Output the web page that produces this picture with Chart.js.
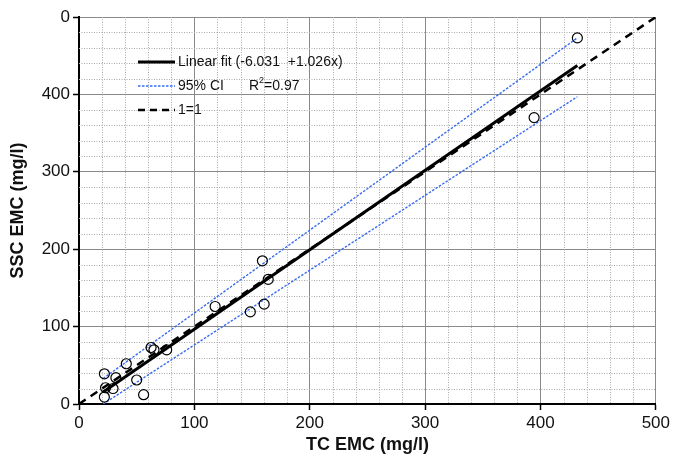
<!DOCTYPE html>
<html><head><meta charset="utf-8">
<script src="https://cdn.jsdelivr.net/npm/chart.js@4.4.1/dist/chart.umd.min.js"></script>
<style>html,body{margin:0;padding:0;background:#fff}#wrap{width:673px;height:459px}</style>
</head><body><div id="wrap"><canvas id="c" width="673" height="459"></canvas></div>
<script>
// Observed points (TC EMC, SSC EMC)
const tcValues  = [22, 23, 22, 29.5, 32, 41, 50, 56, 62.5, 65, 76, 118, 148.5, 159, 160.5, 164, 394.5, 432];
const sscValues = [39, 21,  9, 20,   34, 52, 31, 12, 73,   70, 70, 126, 119,   185, 129,   161, 370,   473];
// Linear fit endpoints
const fitX = [21, 432];
const fitY = [15.5, 437.2];
// 95% CI endpoints
const ciUpperX = [21, 432];
const ciUpperY = [33, 473];
const ciLowerX = [21, 432];
const ciLowerY = [0, 397];
// 1=1 line
const oneX = [0, 500];
const oneY = [0, 500];
// Tick labels
const xTickLabels = ['0','100','200','300','400','500'];
const yTickLabels = ['0','100','200','300','400','0'];
const legendLabels = ['Linear fit (-6.031  +1.026x)', '95% CI', '1=1'];
const r2Label = ['R', '2', '=0.97'];

const pts = (xs, ys) => xs.map((x, i) => ({x: x, y: ys[i]}));

const minorGrid = {
  id: 'minorGrid',
  beforeDatasetsDraw(chart) {
    const {ctx, chartArea: a, scales: {x, y}} = chart;
    ctx.save();
    ctx.strokeStyle = '#a8a8a8';
    ctx.lineWidth = 1;
    ctx.setLineDash([1, 1.5]);
    for (let v = 20; v < 500; v += 20) {
      if (v % 100 === 0) continue;
      const px = Math.round(x.getPixelForValue(v)) + 0.5;
      ctx.beginPath(); ctx.moveTo(px, a.top); ctx.lineTo(px, a.bottom); ctx.stroke();
      const py = Math.round(y.getPixelForValue(v)) + 0.5;
      ctx.beginPath(); ctx.moveTo(a.left, py); ctx.lineTo(a.right, py); ctx.stroke();
    }
    ctx.restore();
  }
};

const legendPlugin = {
  id: 'customLegend',
  afterDatasetsDraw(chart) {
    const {ctx} = chart;
    const x0 = 138, x1 = 175, tx = 178;
    const rows = [62, 86, 110];
    ctx.save();
    ctx.strokeStyle = '#000'; ctx.lineWidth = 3; ctx.setLineDash([]);
    ctx.beginPath(); ctx.moveTo(x0, rows[0]); ctx.lineTo(x1, rows[0]); ctx.stroke();
    ctx.strokeStyle = '#3a6cf2'; ctx.lineWidth = 1.4; ctx.setLineDash([2.5, 1.5]);
    ctx.beginPath(); ctx.moveTo(x0, rows[1]); ctx.lineTo(x1, rows[1]); ctx.stroke();
    ctx.strokeStyle = '#000'; ctx.lineWidth = 2.5; ctx.setLineDash([7, 5]);
    ctx.beginPath(); ctx.moveTo(x0, rows[2]); ctx.lineTo(x1, rows[2]); ctx.stroke();
    ctx.setLineDash([]);
    ctx.fillStyle = '#111';
    ctx.font = '14px "Liberation Sans", Arial, sans-serif';
    ctx.textBaseline = 'middle';
    ctx.textAlign = 'left';
    ctx.fillText(legendLabels[0], tx, rows[0]);
    ctx.fillText(legendLabels[1], tx, rows[1]);
    ctx.fillText(legendLabels[2], tx, rows[2]);
    let rx = 249;
    ctx.fillText(r2Label[0], rx, rows[1]);
    rx += ctx.measureText(r2Label[0]).width;
    ctx.font = '9px "Liberation Sans", Arial, sans-serif';
    ctx.fillText(r2Label[1], rx, rows[1] - 5);
    rx += ctx.measureText(r2Label[1]).width;
    ctx.font = '14px "Liberation Sans", Arial, sans-serif';
    ctx.fillText(r2Label[2], rx, rows[1]);
    ctx.restore();
  }
};

new Chart(document.getElementById('c'), {
  type: 'scatter',
  data: {
    datasets: [
      { label: 'CI upper', data: pts(ciUpperX, ciUpperY), showLine: true, borderColor: '#3a6cf2', borderWidth: 1.4, borderDash: [2.5, 1.5], pointRadius: 0, order: 4 },
      { label: 'CI lower', data: pts(ciLowerX, ciLowerY), showLine: true, borderColor: '#3a6cf2', borderWidth: 1.4, borderDash: [2.5, 1.5], pointRadius: 0, order: 4 },
      { label: '1=1', data: pts(oneX, oneY), showLine: true, borderColor: '#000', borderWidth: 2.5, borderDash: [8, 6], pointRadius: 0, order: 3 },
      { label: 'Linear fit', data: pts(fitX, fitY), showLine: true, borderColor: '#000', borderWidth: 3, pointRadius: 0, order: 2 },
      { label: 'Data', data: pts(tcValues, sscValues), showLine: false, pointRadius: 5, pointBorderWidth: 1.2, pointBorderColor: '#000', pointBackgroundColor: 'rgba(0,0,0,0)', order: 1 }
    ]
  },
  options: {
    responsive: false,
    animation: false,
    layout: { padding: { left: 0, top: 17, right: 16, bottom: 0 } },
    plugins: { legend: { display: false }, tooltip: { enabled: false } },
    scales: {
      x: {
        type: 'linear', min: 0, max: 500,
        afterFit(s) { s.height = 55; },
        ticks: { stepSize: 100, color: '#111', font: { size: 17, family: '"Liberation Sans", Arial, sans-serif' }, padding: 3,
                 callback: (v) => xTickLabels[Math.round(v / 100)] },
        grid: { color: '#8a8a8a', lineWidth: 1, drawTicks: true, tickLength: 6, tickColor: '#000', tickWidth: 1.5 },
        border: { color: '#000', width: 2 },
        title: { display: true, text: 'TC EMC (mg/l)', color: '#111', font: { size: 18, weight: 'bold', family: '"Liberation Sans", Arial, sans-serif' }, padding: { top: 2, bottom: 3 } }
      },
      y: {
        type: 'linear', min: 0, max: 500,
        afterFit(s) { s.width = 79; },
        ticks: { stepSize: 100, color: '#111', font: { size: 17, family: '"Liberation Sans", Arial, sans-serif' }, padding: 3,
                 callback: (v) => yTickLabels[Math.round(v / 100)] },
        grid: { color: '#8a8a8a', lineWidth: 1, drawTicks: true, tickLength: 6, tickColor: '#000', tickWidth: 1.5 },
        border: { color: '#000', width: 2 },
        title: { display: true, text: 'SSC EMC (mg/l)', color: '#111', font: { size: 18, weight: 'bold', family: '"Liberation Sans", Arial, sans-serif' }, padding: { top: 7, bottom: 2 } }
      }
    }
  },
  plugins: [minorGrid, legendPlugin]
});
</script></body></html>
